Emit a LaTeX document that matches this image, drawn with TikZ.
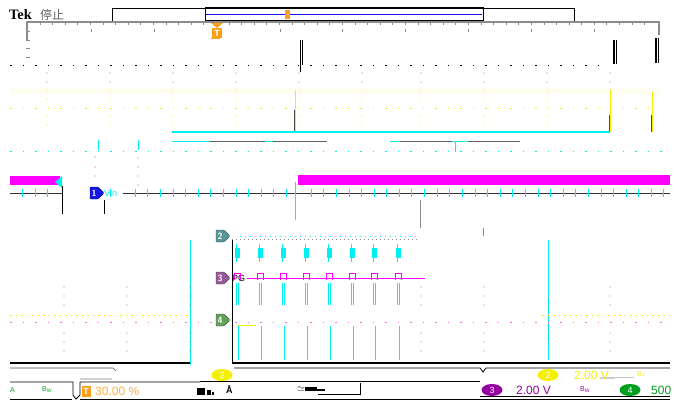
\documentclass[tikz,border=0pt]{standalone}
\usepackage{fontspec}
\setmainfont{Liberation Sans}
\newfontfamily\cjk{Noto Sans CJK SC}
\newfontfamily\serifb{Liberation Serif}
\usetikzlibrary{shapes.symbols}
\definecolor{scyan}{RGB}{0,240,240}
\definecolor{smag}{RGB}{255,0,255}
\definecolor{syel}{RGB}{245,240,0}
\definecolor{sora}{RGB}{250,160,20}
\definecolor{sgray}{RGB}{140,140,140}
\definecolor{sblue}{RGB}{20,20,230}
\definecolor{steal}{RGB}{90,150,150}
\definecolor{spurp}{RGB}{150,90,150}
\definecolor{sgreen}{RGB}{100,160,90}
\definecolor{svio}{RGB}{150,0,160}
\definecolor{sgrn}{RGB}{0,160,30}
\tikzset{
  chmark/.style={signal, signal to=east, draw=#1!60!black, fill=#1, text=white,
    minimum height=12pt, minimum width=14pt, inner sep=1pt, font=\sffamily\bfseries\small, rounded corners=1pt},
  badge/.style={ellipse, fill=#1, text=white, inner sep=0.5pt, minimum width=21pt, minimum height=12pt, font=\small},
  lbl/.style={inner sep=0pt, anchor=west, font=\small},
}
\usetikzlibrary{shapes.geometric}
\begin{document}
\begin{tikzpicture}[x=1pt,y=-1pt]
\useasboundingbox (0,0) rectangle (684,414);
\fill[white] (0,0) rectangle (684,414);
% title
\node[lbl, font=\serifb\bfseries\Large] (tek) at (9,15) {Tek};
\node[lbl, font=\cjk\large, text=sgray!70!black] (stop) at (40,15) {停止};
% record bar
\draw[line width=0.8pt] (112,8) rectangle (574,21);
\draw[line width=1pt] (205,8) rectangle (483,21);
\draw[sblue, line width=0.8pt] (206,14) -- (482,14);
\node[fill=sora, minimum width=5pt, minimum height=9pt, inner sep=0pt] (tpos) at (287,15) {};
% top ruler
\draw[sgray, line width=1.2pt] (27,40) -- (27,22) -- (659,22) -- (659,35);
\foreach \x in {40,52,65,77,90,103,115,128,140,153,166,178,191,203,216,229,241,254,266,279,292,304,317,329,342,355,367,380,392,405,418,430,443,455,468,481,493,506,518,531,544,556,569,581,594,606,619,632,644} {
  \draw[sgray] (\x,22) -- (\x,25);
}
\foreach \x in {91,154,217,280,342,405,468,531,594} {\draw[sgray] (\x,29) -- (\x,32);}
% trigger marker
\node[fill=sora, text=white, font=\bfseries\small, inner sep=1pt, minimum width=10pt, minimum height=10pt] (tmark) at (217,33) {T};
\fill[sora] (211,23) -- (223,23) -- (217,28) -- cycle;
\draw[sora, line width=1pt] (211,39) -- (220,39);
% left scale ticks
\foreach \y in {31,40,48,57} {\draw[sgray] (26,\y) -- (30,\y);}
% right vertical markers
\draw[black, line width=1.2pt] (614,40) -- (614,64);
\draw[black, line width=0.6pt] (616,40) -- (616,64);
\draw[black, line width=1.2pt] (656,38) -- (656,63);
\draw[black, line width=0.6pt] (658,38) -- (658,63);
\draw[black] (300,40) -- (300,72);
\draw[black, line width=0.8pt] (302,40) -- (302,65);
% dotted grid lines
\draw[black, dash pattern=on 1.5pt off 11pt] (10,65) -- (605,65);
\draw[syel, dash pattern=on 1.5pt off 11pt] (10,108) -- (660,108);
\draw[scyan, dash pattern=on 1.5pt off 11pt] (10,151) -- (670,151);
\fill[syel!6] (10,88) rectangle (660,94);
\foreach \x in {47,110,173,236,299,362,421,484,547,610} {
  \foreach \y in {73,82} {\fill[sgray] (\x,\y) circle (0.6);}
  \foreach \y in {90,99,116,125} {\fill[syel] (\x,\y) circle (0.6);}
}
% yellow verticals
\draw[syel, line width=1pt] (295,90) -- (295,132);
\draw[syel, line width=1pt] (610,90) -- (610,132);
\draw[syel, line width=1pt] (652,92) -- (652,132);
\draw[black!70] (294,110) -- (294,132);
\draw[black!70] (609,115) -- (609,132);
\draw[black!70] (651,115) -- (651,132);
% cyan level lines
\draw[scyan, line width=2.5pt] (172,132) -- (610,132);
\draw[scyan, line width=1pt] (172,142) -- (210,142);
\draw[sgray!70!black, line width=1pt] (210,142) -- (265,142);
\draw[scyan, line width=1pt] (265,142) -- (273,142);
\draw[sgray!70!black, line width=1pt] (273,142) -- (327,142);
\draw[scyan, line width=1pt] (390,142) -- (400,142);
\draw[sgray!70!black, line width=1pt] (400,142) -- (452,142);
\draw[scyan, line width=1pt] (452,142) -- (468,142);
\draw[sgray!70!black, line width=1pt] (468,142) -- (520,142);
\draw[scyan] (455,142) -- (455,152);
% magenta bars
\fill[smag] (10,176) rectangle (60,185);
\fill[smag] (298,175) rectangle (670,185);
\fill[scyan] (55,182) -- (62,176) -- (62,188) -- cycle;
% ch1 baseline
\draw[black!80, line width=0.8pt] (10,193) -- (62,193);
\draw[black!80, line width=0.8pt] (123,193) -- (670,193);
\foreach \x in {22,35,47,110,135,147,160,173,185,198,210,223,236,248,261,273,286,311,323,336,349,361,374,386,399,411,424,437,449,462,475,487,500,512,525,538,550,563,575,588,601,613,626,638,651,663} {
  \draw[scyan] (\x,189) -- (\x,197);
}
\draw[black] (62,186) -- (62,214);
\draw[black] (104,200) -- (104,214);
\draw[scyan] (295,182) -- (295,220);
\draw[sgray, line width=1pt] (420,200) -- (420,228);
\draw[sgray, line width=1pt] (483,228) -- (483,236);
\node[chmark=sblue] (ch1) at (94,193) {1};
\node[lbl, text=scyan, font=\small] (vin) at (104,193) {Vin};
\foreach \y in {157,167,176} {\fill[red!70] (95,\y) circle (0.6);}
\foreach \y in {158,167,176,185} {\fill[red!70] (138,\y) circle (0.6);}
\draw[scyan] (138,140) -- (138,150);
\draw[scyan] (98,140) -- (98,150);
% ch2, ch3, ch4 markers
\node[chmark=steal] (ch2) at (220,236) {2};
\node[chmark=spurp] (ch3) at (220,278) {3};
\node[lbl, font=\small] (pg) at (232,278) {PG};
\node[chmark=sgreen] (ch4) at (220,320) {4};
% ch2 dotted level
\draw[sgray, dash pattern=on 1pt off 3pt] (232,239) -- (420,239);
\draw[scyan, dash pattern=on 1pt off 4pt] (240,236) -- (420,236);
% pulses
\foreach \x in {237,260,283,306,329,352,374,398} {
  \fill[scyan] (\x-2,248) rectangle (\x+3,258);
  \draw[scyan] (\x-1,244) -- (\x-1,262);
  \draw[smag, line width=0.8pt] (\x-3,280) -- (\x-3,273) -- (\x+3,273) -- (\x+3,280);
  \draw[scyan, line width=0.8pt] (\x-1,283) -- (\x-1,305);
  \draw[scyan, line width=0.8pt] (\x+1,283) -- (\x+1,305);
  \draw[scyan, line width=0.8pt] (\x+1,326) -- (\x+1,360);
}
\draw[smag, line width=1pt] (247,278) -- (425,278);
% verticals around waveform region
\draw[black, line width=0.8pt] (232,240) -- (232,362);
\draw[scyan, line width=1pt] (190,240) -- (190,365);
\draw[scyan, line width=1pt] (548,240) -- (548,360);
\draw[sgray, dash pattern=on 1pt off 8pt] (548,296) -- (548,345);
% lower dotted grid
\draw[syel, dash pattern=on 1.5pt off 4pt] (10,315) -- (190,315);
\draw[syel, dash pattern=on 1.5pt off 4pt] (542,315) -- (670,315);
\draw[smag!60, dash pattern=on 1.5pt off 11pt] (10,322) -- (670,322);
\foreach \x in {64,127,190,421,484,610} {
  \foreach \y in {287,296,305,333,342,351} {\fill[sgray] (\x,\y) circle (0.6);}
}
\draw[syel, line width=1pt] (238,325) -- (256,325);
% bottom thick lines
\draw[black, line width=1.5pt] (10,363) -- (190,363);
\draw[black, line width=1.5pt] (232,363) -- (670,363);
% status bar
\draw[black!70, line width=0.6pt] (10,368) -- (113,368) -- (116,371);
\draw[black, line width=0.8pt] (10,382) -- (73,382) -- (73,395) -- (76,399) -- (80,395) -- (80,382) -- (200,382);
\draw[black, line width=0.8pt] (10,399) -- (72,399);
\draw[black, line width=0.8pt] (80,399) -- (670,399);
\draw[black, line width=0.8pt] (234,368) -- (480,368) -- (483,372) -- (486,368) -- (670,368);
\draw[black, line width=1pt] (200,381) -- (480,381);
\draw[sgray!40, line width=1.5pt] (80,379) -- (112,379);
\draw[sgray!40, line width=1.5pt] (600,378) -- (615,378);
\node[lbl, text=sgrn, font=\scriptsize] (ta) at (10,390) {A};
\node[lbl, text=sgrn, font=\scriptsize] (tbw) at (42,390) {B$_{\mathrm W}$};
\node[fill=sora, text=white, font=\bfseries\small, inner sep=1pt, minimum width=9pt, minimum height=11pt] (tbadge) at (86,391) {T};
\node[lbl, text=sora!80, font=\large] (tpct) at (95,391) {30.00 \%};
\node[badge=syel] (b2a) at (222,375) {2};
\node[lbl, font=\bfseries\small] (tdiv) at (197,391) {\rule{8pt}{7pt}\,\rule{4pt}{5pt}\,\rule{2pt}{3pt}};
\node[lbl, font=\bfseries\small] (tdiv2) at (226,390) {Å};
\node[lbl, font=\bfseries\normalsize] (tdiv3) at (297,389) {$\mathbf{\simeq}$\rule{12pt}{4pt}\rule{8pt}{2pt}};
\draw[black, line width=0.8pt] (318,394) -- (360,394) -- (360,383);
\node[badge=syel] (b2b) at (548,375) {2};
\node[lbl, text=syel, font=\large] (v2) at (574,375) {2.00 V};
\draw[sgray!50, line width=1pt] (606,377) -- (634,377);
\node[lbl, text=syel, font=\scriptsize] (b2bw) at (637,375) {B\textsubscript{\tiny\textrm{+}}};
\node[badge=svio] (b3) at (492,390) {3};
\node[lbl, text=svio, font=\large] (v3) at (516,390) {2.00 V};
\node[lbl, text=svio, font=\scriptsize] (b3bw) at (580,390) {B$_{\mathrm W}$};
\node[badge=sgrn] (b4) at (630,390) {4};
\node[lbl, text=sgrn, font=\large] (v4) at (651,390) {500};
\draw[black, line width=1pt] (480,396) -- (670,396);
\end{tikzpicture}
\end{document}
